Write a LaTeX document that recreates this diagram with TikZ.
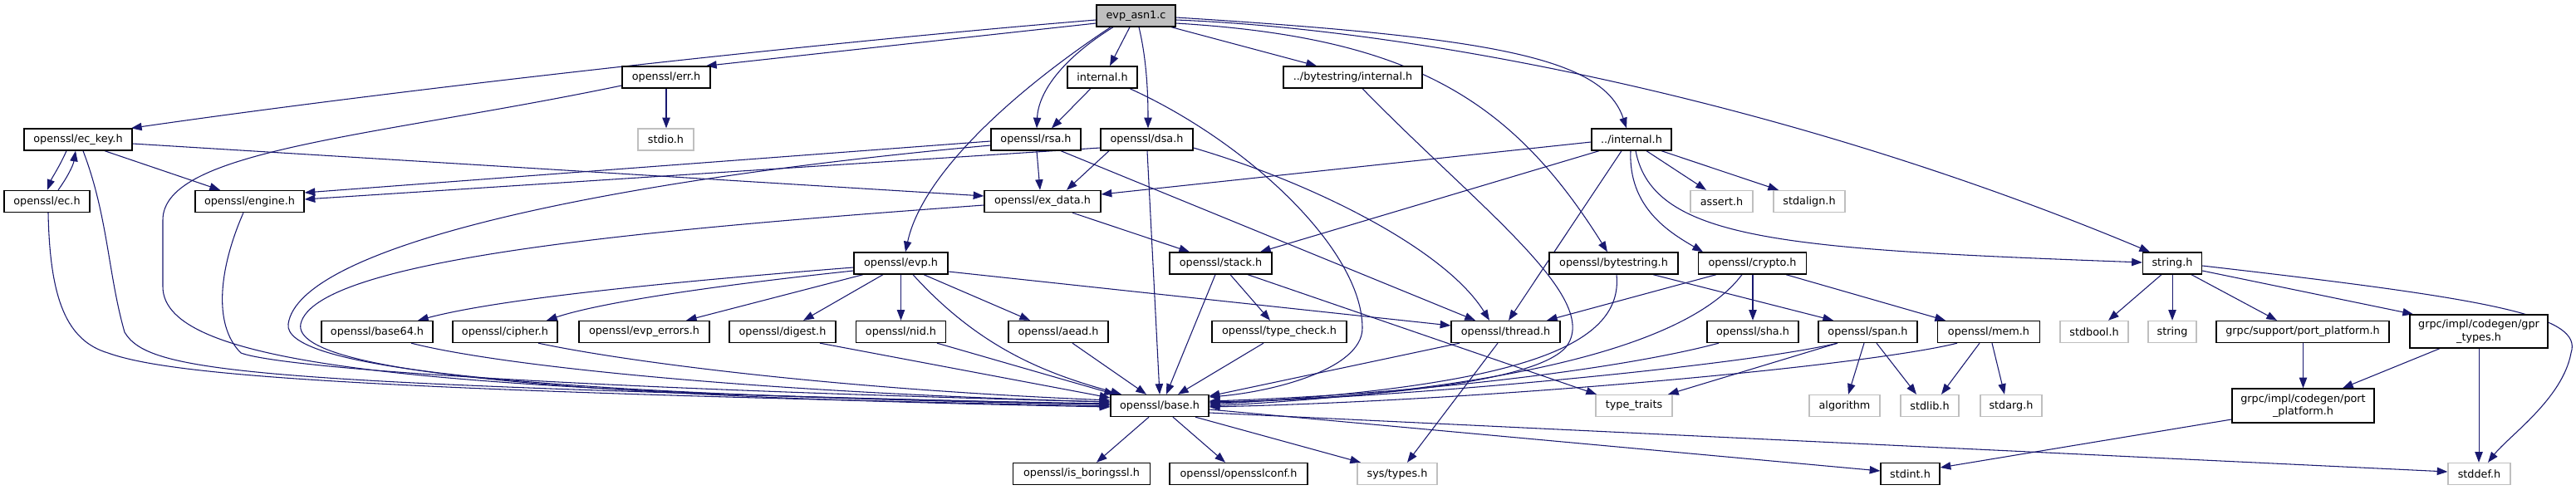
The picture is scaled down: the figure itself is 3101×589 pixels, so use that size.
\documentclass[tikz,border=0pt]{standalone}
\usepackage{fontspec}
\setmainfont{DejaVu Sans}
\usetikzlibrary{arrows.meta}
\definecolor{edgeblue}{HTML}{191970}
\definecolor{sysgray}{HTML}{BFBFBF}
\pgfdeclarelayer{bg}
\pgfsetlayers{bg,main}
\tikzset{
  hdr/.style={draw=black, line width=1pt, fill=white, inner sep=0pt,
    font=\fontsize{9.6}{11.5}\selectfont, minimum height=26*0.75pt, align=center},
  sys/.style={hdr, draw=sysgray},
  root/.style={hdr, fill=sysgray},
  bw/.style={minimum width=#1*0.75pt},
  bh/.style={minimum height=#1*0.75pt},
  edge/.style={draw=edgeblue, line width=0.8pt, -{Triangle[length=9.5pt,width=7pt]}},
}
\begin{document}
\begin{tikzpicture}[x=0.75pt,y=-0.75pt]
\useasboundingbox (0,0) rectangle (3101,589);
% row A
\node[root,bw=95] (evp) at (1367.5,19) {evp\_asn1.c};
% row B
\node[hdr,bw=106] (err) at (802,93) {openssl/err.h};
\node[hdr,bw=84] (intl) at (1327,93) {internal.h};
\node[hdr,bw=167] (bsint) at (1628.5,93) {../bytestring/internal.h};
% row C
\node[hdr,bw=130] (eckey) at (94,168) {openssl/ec\_key.h};
\node[sys,bw=67] (stdio) at (801.5,168) {stdio.h};
\node[hdr,bw=108] (rsa) at (1247,168) {openssl/rsa.h};
\node[hdr,bw=111] (dsa) at (1380.5,168) {openssl/dsa.h};
\node[hdr,bw=96] (upint) at (1964,168) {../internal.h};
% row D
\node[hdr,bw=103] (ec) at (56.5,242.5) {openssl/ec.h};
\node[hdr,bw=131] (engine) at (300.5,242.5) {openssl/engine.h};
\node[hdr,bw=140] (exdata) at (1255,242.5) {openssl/ex\_data.h};
\node[sys,bw=75] (assert) at (2072.5,242.5) {assert.h};
\node[sys,bw=86] (stdalign) at (2178,242.5) {stdalign.h};
% row E
\node[hdr,bw=113] (evph) at (1084.5,317) {openssl/evp.h};
\node[hdr,bw=123] (stack) at (1469.5,317) {openssl/stack.h};
\node[hdr,bw=155] (bstr) at (1942.5,317) {openssl/bytestring.h};
\node[hdr,bw=130] (crypto) at (2109.5,317) {openssl/crypto.h};
\node[hdr,bw=71] (stringh) at (2615,317) {string.h};
% row F
\node[hdr,bw=134] (b64) at (454,399.5) {openssl/base64.h};
\node[hdr,bw=126] (cipher) at (608,399.5) {openssl/cipher.h};
\node[hdr,bw=157] (everr) at (775.5,399.5) {openssl/evp\_errors.h};
\node[hdr,bw=128] (digest) at (942,399.5) {openssl/digest.h};
\node[hdr,bw=108] (nid) at (1084.5,399.5) {openssl/nid.h};
\node[hdr,bw=120] (aead) at (1274,399.5) {openssl/aead.h};
\node[hdr,bw=162] (tcheck) at (1540,399.5) {openssl/type\_check.h};
\node[hdr,bw=131] (thread) at (1812.5,399.5) {openssl/thread.h};
\node[hdr,bw=110] (sha) at (2110,399.5) {openssl/sha.h};
\node[hdr,bw=119] (span) at (2248.5,399.5) {openssl/span.h};
\node[hdr,bw=123] (mem) at (2394,399.5) {openssl/mem.h};
\node[sys,bw=82] (stdbool) at (2521,399.5) {stdbool.h};
\node[sys,bw=58] (string) at (2615,399.5) {string};
\node[hdr,bw=208] (gpp) at (2772,399.5) {grpc/support/port\_platform.h};
\node[hdr,bw=166,bh=40] (gpr) at (2984,399) {grpc/impl/codegen/gpr\\\_types.h};
% row G
\node[hdr,bw=118] (base) at (1396,488.5) {openssl/base.h};
\node[sys,bw=92] (ttraits) at (1967,488.5) {type\_traits};
\node[sys,bw=85] (algo) at (2220.5,488.5) {algorithm};
\node[sys,bw=70] (stdlib) at (2323,488.5) {stdlib.h};
\node[sys,bw=74] (stdarg) at (2421,488.5) {stdarg.h};
\node[hdr,bw=171,bh=41] (gcpp) at (2772.5,488.5) {grpc/impl/codegen/port\\\_platform.h};
% row H
\node[hdr,bw=165] (isb) at (1302,570.5) {openssl/is\_boringssl.h};
\node[hdr,bw=166] (oconf) at (1491,570.5) {openssl/opensslconf.h};
\node[sys,bw=96] (systypes) at (1682,570.5) {sys/types.h};
\node[hdr,bw=71] (stdint) at (2299.5,570.5) {stdint.h};
\node[sys,bw=75] (stddef) at (2984.5,570.5) {stddef.h};

\begin{pgfonlayer}{bg}
\fill[white] (0,0) rectangle (3101,589);
% evp_asn1.c
\draw[edge] (evp.west |- 0,24) .. controls (1000,50) and (500,105) .. (eckey.north -| 158,0);
\draw[edge] (evp.west |- 0,28) -- (err.north -| 850,0);
\draw[edge] (evp.south -| 1337,0) .. controls (1220,110) and (1110,210) .. (evph.north -| 1090,0);
\draw[edge] (evp.south -| 1340,0) .. controls (1280,70) and (1250,110) .. (rsa.north -| 1248,0);
\draw[edge] (evp.south -| 1360,0) -- (intl.north -| 1336,0);
\draw[edge] (evp.south -| 1371,0) .. controls (1380,70) and (1382,110) .. (dsa.north -| 1382,0);
\draw[edge] (evp.south -| 1410,0) -- (bsint.north -| 1585,0);
\draw[edge] (evp.east |- 0,21) .. controls (1800,45) and (1930,70) .. (upint.north -| 1958,0);
\draw[edge] (evp.east |- 0,24) .. controls (1700,35) and (2150,120) .. (stringh.north -| 2588,0);
\draw[edge] (evp.east |- 0,28) .. controls (1700,45) and (1820,120) .. (bstr.north -| 1935,0);
% err.h
\draw[edge] (err.south) -- (stdio.north -| err.south);
\draw[edge] (err.west |- 0,103) .. controls (450,165) and (196,180) .. (196,265) -- (196,345) .. controls (196,440) and (500,472) .. (base.west |- 0,486);
% ec_key.h / ec.h / engine.h
\draw[edge] (eckey.south -| 80,0) .. controls (72,200) and (62,215) .. (ec.north -| 57,0);
\draw[edge] (ec.north -| 70,0) .. controls (80,215) and (88,200) .. (eckey.south -| 91,0);
\draw[edge] (eckey.south -| 126,0) -- (engine.north -| 265,0);
\draw[edge] (eckey.east |- 0,173) -- (exdata.west |- 0,236);
\draw[edge] (eckey.south -| 100,0) .. controls (130,260) and (130,330) .. (150,400) .. controls (180,450) and (300,462) .. (base.west |- 0,487);
\draw[edge] (ec.south -| 58,0) .. controls (60,360) and (80,410) .. (130,425) .. controls (200,450) and (400,470) .. (base.west |- 0,489);
\draw[edge] (engine.south -| 293,0) .. controls (265,320) and (255,390) .. (290,425) .. controls (330,440) and (600,465) .. (base.west |- 0,484);
% rsa.h
\draw[edge] (rsa.west |- 0,170) -- (engine.east |- 0,232);
\draw[edge] (rsa.west |- 0,175) .. controls (700,220) and (360,300) .. (347,390) .. controls (340,440) and (600,475) .. (base.west |- 0,487);
\draw[edge] (rsa.south -| 1248,0) -- (exdata.north -| 1252,0);
\draw[edge] (rsa.south -| 1277,0) -- (thread.north -| 1776,0);
% internal.h
\draw[edge] (intl.south -| 1313,0) -- (rsa.north -| 1266,0);
\draw[edge] (intl.south -| 1360,0) .. controls (1500,170) and (1640,300) .. (1640,395) .. controls (1640,445) and (1530,472) .. (base.east |- 0,478);
% dsa.h
\draw[edge] (dsa.west |- 0,178) -- (engine.east |- 0,240);
\draw[edge] (dsa.south -| 1335,0) -- (exdata.north -| 1284,0);
\draw[edge] (dsa.south -| 1381,0) -- (base.north -| 1396,0);
\draw[edge] (dsa.east |- 0,178) .. controls (1580,220) and (1740,300) .. (thread.north -| 1793,0);
% ex_data.h
\draw[edge] (exdata.west |- 0,247) .. controls (800,275) and (380,310) .. (362,390) .. controls (350,450) and (700,478) .. (base.west |- 0,490);
\draw[edge] (exdata.south -| 1291,0) -- (stack.north -| 1432,0);
% ../bytestring/internal.h
\draw[edge] (bsint.south -| 1640,0) .. controls (1780,250) and (1930,360) .. (1885,418) .. controls (1840,470) and (1560,482) .. (base.east |- 0,484);
% ../internal.h
\draw[edge] (upint.west |- 0,171) -- (exdata.east |- 0,234);
\draw[edge] (upint.south -| 1925,0) -- (stack.north -| 1517,0);
\draw[edge] (upint.south -| 1952,0) -- (thread.north -| 1816,0);
\draw[edge] (upint.south -| 1963,0) .. controls (1960,250) and (2010,280) .. (crypto.north -| 2050,0);
\draw[edge] (upint.south -| 1969,0) .. controls (1990,290) and (2150,300) .. (stringh.west |- 0,316);
\draw[edge] (upint.south -| 1982,0) -- (assert.north -| 2054,0);
\draw[edge] (upint.south -| 2000,0) -- (stdalign.north -| 2141,0);
% evp.h
\draw[edge] (evph.west |- 0,322) .. controls (800,340) and (600,360) .. (b64.north -| 503,0);
\draw[edge] (evph.west |- 0,326) .. controls (850,345) and (720,365) .. (cipher.north -| 658,0);
\draw[edge] (evph.south -| 1039,0) -- (everr.north -| 826,0);
\draw[edge] (evph.south -| 1063,0) -- (digest.north -| 967,0);
\draw[edge] (evph.south) -- (nid.north);
\draw[edge] (evph.south -| 1112,0) -- (aead.north -| 1240,0);
\draw[edge] (evph.south -| 1099,0) .. controls (1180,420) and (1260,450) .. (base.north -| 1350,0);
\draw[edge] (evph.east |- 0,327) -- (thread.west |- 0,392);
% row F -> base
\draw[edge] (b64.south -| 495,0) .. controls (600,440) and (900,472) .. (base.west |- 0,484);
\draw[edge] (cipher.south -| 648,0) .. controls (750,435) and (1000,468) .. (base.west |- 0,482);
\draw[edge] (digest.south -| 987,0) -- (base.west |- 0,479);
\draw[edge] (nid.south -| 1128,0) -- (base.north -| 1342,0);
\draw[edge] (aead.south -| 1291,0) -- (base.north -| 1380,0);
% stack.h
\draw[edge] (stack.south -| 1463,0) -- (base.north -| 1404,0);
\draw[edge] (stack.south -| 1481,0) -- (tcheck.north -| 1529,0);
\draw[edge] (stack.south -| 1502,0) -- (ttraits.north -| 1922,0);
\draw[edge] (tcheck.south -| 1521,0) -- (base.north -| 1418,0);
% bytestring.h
\draw[edge] (bstr.south -| 1946,0) .. controls (1955,420) and (1820,465) .. (base.east |- 0,487);
\draw[edge] (bstr.south -| 1990,0) -- (span.north -| 2207,0);
% crypto.h
\draw[edge] (crypto.south -| 2066,0) -- (thread.north -| 1862,0);
\draw[edge] (crypto.south -| 2097,0) .. controls (2030,420) and (1800,470) .. (base.east |- 0,489);
\draw[edge] (crypto.south -| 2110,0) -- (sha.north -| 2110,0);
\draw[edge] (crypto.south -| 2150,0) -- (mem.north -| 2342,0);
% thread.h
\draw[edge] (thread.south -| 1757,0) -- (base.east |- 0,477);
\draw[edge] (thread.south -| 1803,0) -- (systypes.north -| 1694,0);
% sha.h, span.h, mem.h
\draw[edge] (sha.south -| 2069,0) .. controls (1950,445) and (1700,475) .. (base.east |- 0,483);
\draw[edge] (span.south -| 2212,0) .. controls (2100,440) and (1700,478) .. (base.east |- 0,485);
\draw[edge] (span.south -| 2212,0) -- (ttraits.north -| 2008,0);
\draw[edge] (span.south -| 2244,0) -- (algo.north -| 2225,0);
\draw[edge] (span.south -| 2259,0) -- (stdlib.north -| 2307,0);
\draw[edge] (mem.south -| 2356,0) .. controls (2250,440) and (1800,482) .. (base.east |- 0,490);
\draw[edge] (mem.south -| 2383,0) -- (stdlib.north -| 2337,0);
\draw[edge] (mem.south -| 2398,0) -- (stdarg.north -| 2413,0);
% string.h
\draw[edge] (stringh.south -| 2602,0) -- (stdbool.north -| 2538,0);
\draw[edge] (stringh.south) -- (string.north);
\draw[edge] (stringh.south -| 2638,0) -- (gpp.north -| 2741,0);
\draw[edge] (stringh.east |- 0,326) -- (gpr.north -| 2905,0);
\draw[edge] (stringh.east |- 0,320) .. controls (3000,360) and (3110,380) .. (3095,425) .. controls (3085,480) and (3020,525) .. (stddef.north -| 2995,0);
% grpc
\draw[edge] (gpr.south -| 2937,0) -- (gcpp.north -| 2820,0);
\draw[edge] (gpr.south -| 2984,0) -- (stddef.north -| 2984,0);
\draw[edge] (gpp.south -| 2772.5,0) -- (gcpp.north -| 2772.5,0);
\draw[edge] (gcpp.west |- 0,505) -- (stdint.east |- 0,563);
% base.h
\draw[edge] (base.south -| 1383,0) -- (isb.north -| 1320,0);
\draw[edge] (base.south -| 1412,0) -- (oconf.north -| 1475,0);
\draw[edge] (base.south -| 1439,0) -- (systypes.north -| 1638,0);
\draw[edge] (base.east |- 0,493) -- (stdint.west |- 0,567);
\draw[edge] (base.east |- 0,497) -- (stddef.west |- 0,568);
\end{pgfonlayer}
\end{tikzpicture}
\end{document}
